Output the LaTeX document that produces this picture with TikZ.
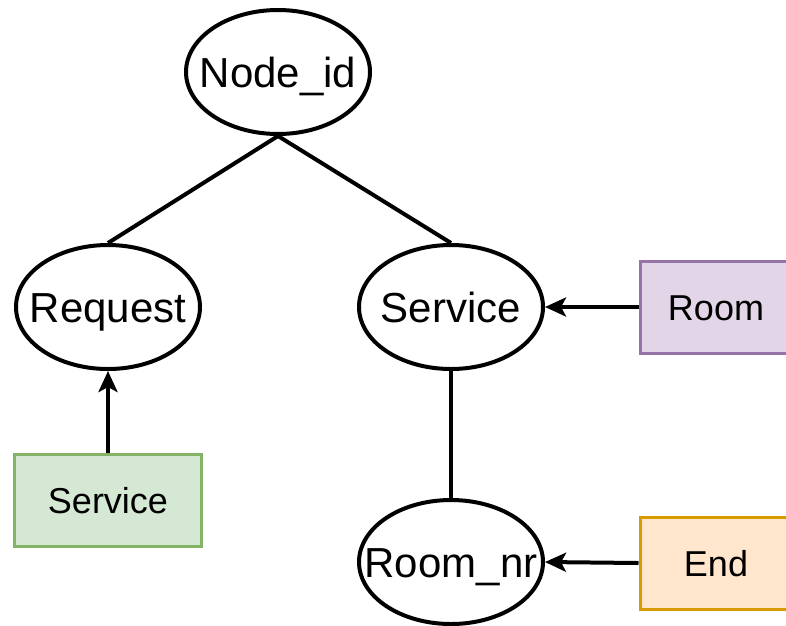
\documentclass[tikz,border=0pt]{standalone}
\usepackage{fontspec}
\setmainfont{Liberation Sans}
\usetikzlibrary{shapes.geometric,arrows.meta}
\definecolor{greenfill}{HTML}{D5E8D4}
\definecolor{greenline}{HTML}{82B366}
\definecolor{purplefill}{HTML}{E1D5E7}
\definecolor{purpleline}{HTML}{9673A6}
\definecolor{orangefill}{HTML}{FFE6CC}
\definecolor{orangeline}{HTML}{D79B00}
\newcommand {\ctext}[1] {\makebox[0pt]{#1}}

\begin{document}
\begin{tikzpicture}[x=1pt,y=-1pt,
  attr/.style={draw,ellipse,line width=4pt,minimum width=184pt,minimum height=124pt,
    inner sep=0pt,text height=30pt,text depth=0pt,font=\fontsize{42}{50}\selectfont},
  ent/.style={draw,rectangle,line width=3pt,minimum width=152pt,minimum height=92pt,
    inner sep=0pt,text height=26pt,text depth=0pt,font=\fontsize{36}{43}\selectfont},
  link/.style={line width=4pt},
  arr/.style={line width=4pt,-{Stealth[length=21pt,width=19pt,inset=5pt]}}]
	\useasboundingbox (0,0) rectangle (786,625);
	\clip (0,0) rectangle (786,625);

	% attributes
	\node[attr] (nodeid)  at (278,72)  {\ctext{Node\_id}};
	\node[attr] (request) at (108,307) {\ctext{Request}};
	\node[attr] (service) at (451,307) {\ctext{Service}};
	\node[attr] (roomnr)  at (451,562) {\ctext{Room\_nr}};

	% entities
	\node[ent,fill=greenfill,draw=greenline,minimum width=187pt] (srvbox) at (108,500) {Service};
	\node[ent,fill=purplefill,draw=purpleline] (roombox) at (716,307) {Room};
	\node[ent,fill=orangefill,draw=orangeline] (endbox) at (716,563) {End};

	\draw[link] (nodeid.south) -- (request.north);
	\draw[link] (nodeid.south) -- (service.north);
	\draw[link] (service.south) -- (roomnr.north);

	\draw[arr] (srvbox.north) -- (request.south);
	\draw[arr] (roombox.west) -- (service.east);
	\draw[arr] (endbox.west) -- (roomnr.east);
\end{tikzpicture}
\end{document}
